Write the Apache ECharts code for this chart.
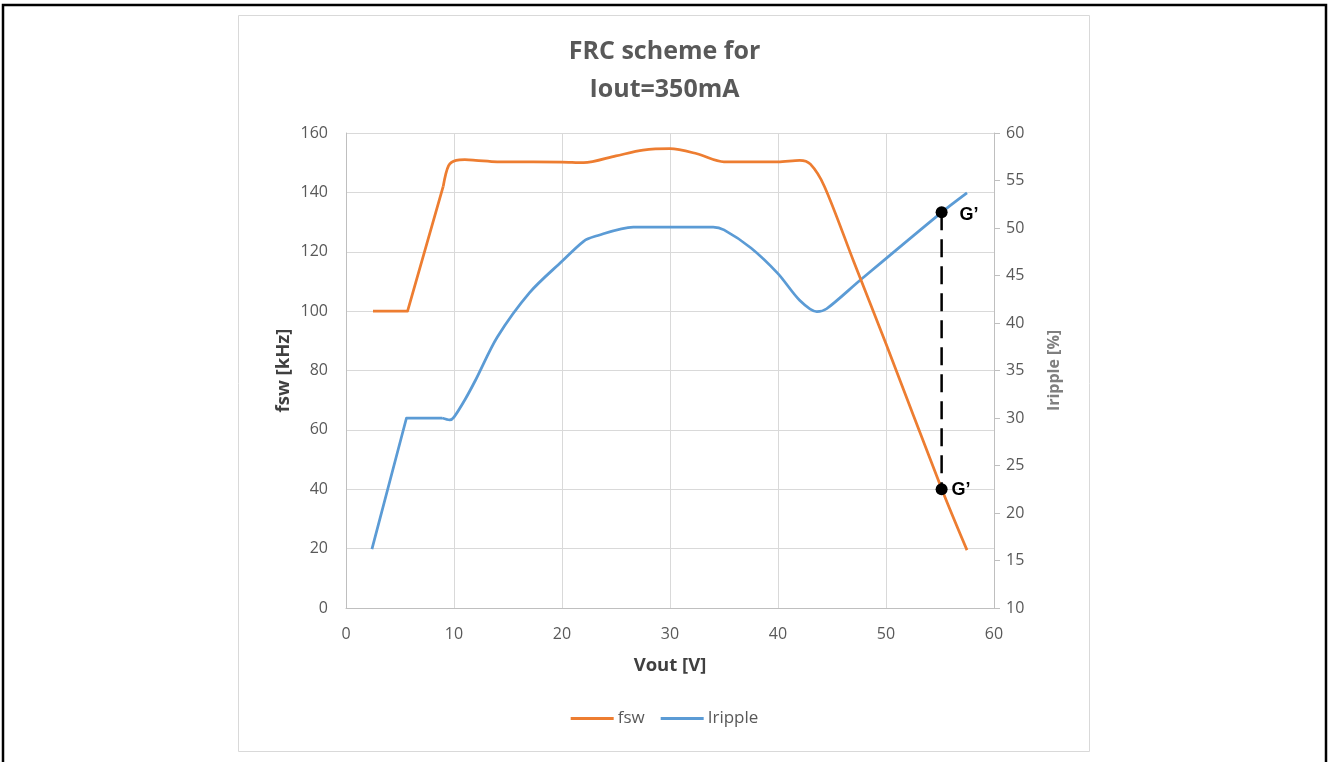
<!DOCTYPE html>
<html>
<head>
<meta charset="utf-8">
<script src="https://cdn.jsdelivr.net/npm/echarts@6/dist/echarts.min.js"></script>
<style>
html,body{margin:0;padding:0;background:#fff;}
#chart{width:1329px;height:762px;}
</style>
</head>
<body>
<div id="chart"></div>
<script>
// ---- data ----
const voutFsw = [2.5, 5.7, 9.0, 9.5, 10.2, 11.0, 12.0, 14.0, 20.0, 22.0, 25.0, 27.5, 30.0, 32.5, 35.0, 40.0, 42.0, 43.0, 44.3, 47.0, 50.0, 55.15, 57.5];
const fsw      = [100, 100, 142, 149, 150.8, 151, 150.8, 150.3, 150.2, 150, 152.3, 154.2, 154.7, 153, 150.3, 150.3, 150.8, 149.5, 142, 116.8, 89, 40.2, 19.5];
const voutRip  = [2.4, 5.6, 8.9, 9.6, 10.0, 11.0, 12.0, 14.0, 17.0, 20.0, 22.0, 23.0, 26.6, 30.0, 34.0, 35.0, 37.5, 40.0, 42.0, 43.6, 44.5, 47.6, 55.15, 57.5];
const iripple  = [16.2, 30, 30, 29.8, 30.1, 31.9, 34, 38.5, 43.2, 46.5, 48.6, 49.1, 50.1, 50.1, 50.1, 49.8, 47.9, 45.2, 42.4, 41.2, 41.5, 44.5, 51.65, 53.7];
// the first points of each curve are joined by straight segments in the original
const fswStraightUntil = 2;      // index in voutFsw
const ripStraightUntil = 2;      // index in voutRip
const markerVout = 55.15;
const markerFsw = 40;
const markerRipple = 51.65;
const markerLabel = 'G\u2019';
const leftTicks = {min: 0, max: 160, interval: 20};
const rightTicks = {min: 10, max: 60, interval: 5};
const xTicks = {min: 0, max: 60, interval: 10};

// convert a right-axis value to the left axis scale (for the dashed connector)
function rightToLeft(v) {
  return leftTicks.min + (v - rightTicks.min) * (leftTicks.max - leftTicks.min) / (rightTicks.max - rightTicks.min);
}
function pairs(xs, ys) { return xs.map((v, i) => [v, ys[i]]); }
const fswPts = pairs(voutFsw, fsw);
const ripPts = pairs(voutRip, iripple);

const FONT = "'Open Sans', 'Liberation Sans', sans-serif";
const ORANGE = '#ED7D31', BLUE = '#5B9BD5';
const chart = echarts.init(document.getElementById('chart'), null, {renderer: 'canvas'});
chart.setOption({
  animation: false,
  backgroundColor: '#fff',
  graphic: [
    {type: 'rect', silent: true, z: -10, shape: {x: 3, y: 5, width: 1323, height: 800},
     style: {fill: 'none', stroke: '#000', lineWidth: 2.5}},
    {type: 'rect', silent: true, z: -9, shape: {x: 238.5, y: 15.5, width: 851, height: 736},
     style: {fill: '#fff', stroke: '#d9d9d9', lineWidth: 1}}
  ],
  title: {
    text: 'FRC scheme for\nIout=350mA',
    left: 'center', top: 33, padding: 0,
    textStyle: {fontFamily: FONT, fontSize: 25, fontWeight: 'bold', color: '#595959', lineHeight: 38}
  },
  legend: {
    bottom: 30, left: 'center',
    itemWidth: 43, itemHeight: 3, itemGap: 16, icon: 'rect',
    data: ['fsw', 'Iripple'],
    textStyle: {fontFamily: FONT, fontSize: 17, color: '#595959', padding: [0, 0, 0, -1]}
  },
  grid: {left: 346, right: 335, top: 133, bottom: 154, containLabel: false},
  xAxis: {
    type: 'value', min: xTicks.min, max: xTicks.max, interval: xTicks.interval,
    name: 'Vout [V]', nameLocation: 'middle', nameGap: 48,
    nameTextStyle: {fontFamily: FONT, fontSize: 18.5, fontWeight: 'bold', color: '#404040'},
    axisLine: {show: true, lineStyle: {color: '#bfbfbf', width: 1}},
    axisTick: {show: false},
    axisLabel: {fontFamily: FONT, fontSize: 16, color: '#595959', margin: 18},
    splitLine: {show: true, lineStyle: {color: '#d9d9d9', width: 1}}
  },
  yAxis: [
    {
      type: 'value', position: 'left', min: leftTicks.min, max: leftTicks.max, interval: leftTicks.interval,
      name: 'fsw [kHz]', nameLocation: 'middle', nameGap: 53, nameRotate: 90,
      nameTextStyle: {fontFamily: FONT, fontSize: 18.5, fontWeight: 'bold', color: '#404040'},
      axisLine: {show: true, lineStyle: {color: '#bfbfbf', width: 1}},
      axisTick: {show: false},
      axisLabel: {fontFamily: FONT, fontSize: 16, color: '#595959', margin: 18},
      splitLine: {show: true, lineStyle: {color: '#d9d9d9', width: 1}}
    },
    {
      type: 'value', position: 'right', min: rightTicks.min, max: rightTicks.max, interval: rightTicks.interval,
      name: 'Iripple [%]', nameLocation: 'middle', nameGap: 52, nameRotate: 90,
      nameTextStyle: {fontFamily: FONT, fontSize: 16, fontWeight: 'bold', color: '#7f7f7f'},
      axisLine: {show: true, lineStyle: {color: '#bfbfbf', width: 1}},
      axisTick: {show: true, inside: false, length: 6, lineStyle: {color: '#bfbfbf'}},
      axisLabel: {fontFamily: FONT, fontSize: 16, color: '#595959', margin: 12},
      splitLine: {show: false}
    }
  ],
  series: [
    {
      name: 'fsw', type: 'line', yAxisIndex: 0, smooth: false, showSymbol: false, symbol: 'none',
      data: fswPts.slice(0, fswStraightUntil + 1),
      lineStyle: {color: ORANGE, width: 2.75, join: 'round'}, itemStyle: {color: ORANGE}, z: 3
    },
    {
      name: 'fsw', type: 'line', yAxisIndex: 0, smooth: 0.3, showSymbol: false, symbol: 'none',
      data: fswPts.slice(fswStraightUntil),
      lineStyle: {color: ORANGE, width: 2.75}, itemStyle: {color: ORANGE}, z: 3
    },
    {
      name: 'Iripple', type: 'line', yAxisIndex: 1, smooth: false, showSymbol: false, symbol: 'none',
      data: ripPts.slice(0, ripStraightUntil + 1),
      lineStyle: {color: BLUE, width: 2.75, join: 'round'}, itemStyle: {color: BLUE}, z: 2
    },
    {
      name: 'Iripple', type: 'line', yAxisIndex: 1, smooth: 0.3, showSymbol: false, symbol: 'none',
      data: ripPts.slice(ripStraightUntil),
      lineStyle: {color: BLUE, width: 2.75}, itemStyle: {color: BLUE}, z: 2
    },
    {
      name: 'connector', type: 'line', yAxisIndex: 0, symbol: 'none', silent: true,
      data: [[markerVout, rightToLeft(markerRipple)], [markerVout, markerFsw]],
      lineStyle: {color: '#000', width: 2.5, type: [18, 9]}, z: 4
    },
    {
      name: 'markerTop', type: 'scatter', yAxisIndex: 1, symbolSize: 12, silent: true,
      data: [[markerVout, markerRipple]],
      itemStyle: {color: '#000', opacity: 1}, z: 5,
      label: {show: true, position: 'right', distance: 10, formatter: markerLabel, offset: [2, 3],
              fontFamily: "'Liberation Sans', Arial, sans-serif", fontSize: 18, fontWeight: 'bold', color: '#000'}
    },
    {
      name: 'markerBottom', type: 'scatter', yAxisIndex: 0, symbolSize: 12, silent: true,
      data: [[markerVout, markerFsw]],
      itemStyle: {color: '#000', opacity: 1}, z: 5,
      label: {show: true, position: 'right', distance: 4, formatter: markerLabel, offset: [0, 1],
              fontFamily: "'Liberation Sans', Arial, sans-serif", fontSize: 18, fontWeight: 'bold', color: '#000'}
    }
  ]
});
</script>
</body>
</html>
